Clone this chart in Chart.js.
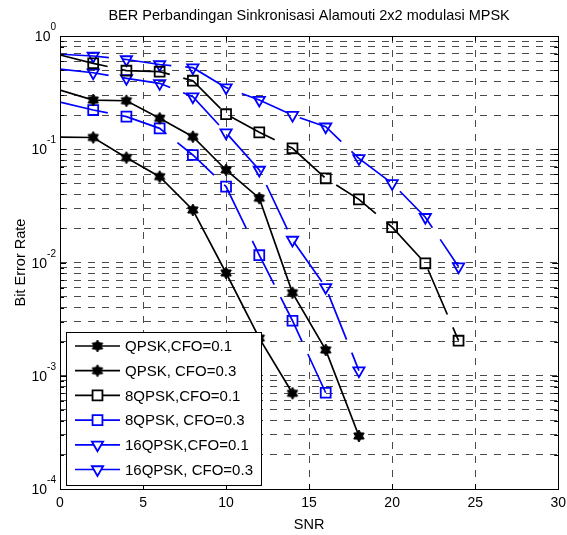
<!DOCTYPE html>
<html><head><meta charset="utf-8">
<script src="https://cdn.jsdelivr.net/npm/chart.js@4"></script>
<style>html,body{margin:0;padding:0;background:#fff}canvas{display:block}</style>
</head><body>
<canvas id="c" width="567" height="535"></canvas>
<script>
// ---- data ----
const snr = [0, 2, 4, 6, 8, 10, 12, 14, 16, 18, 20, 22, 24];
const qpskCfo01 = [0.333, 0.272, 0.268, 0.1875, 0.129, 0.0656, 0.037, 0.0054, 0.00169, 0.000294];
const qpskCfo03 = [0.128, 0.127, 0.0843, 0.0573, 0.0291, 0.00808, 0.00215, 0.0007];
const psk8Cfo01 = [0.68, 0.574, 0.494, 0.484, 0.403, 0.204, 0.141, 0.102, 0.0554, 0.0361, 0.0205, 0.00984, 0.00204];
const psk8Cfo03 = [0.261, 0.222, 0.194, 0.153, 0.089, 0.0468, 0.0116, 0.00306, 0.000708];
const psk16Cfo01 = [0.69, 0.666, 0.62, 0.56, 0.525, 0.35, 0.272, 0.2, 0.158, 0.083, 0.05, 0.0251, 0.00918];
const psk16Cfo03 = [0.51, 0.474, 0.423, 0.382, 0.291, 0.14, 0.0656, 0.0158, 0.00604, 0.00111];
const seriesLabels = ['QPSK,CFO=0.1', 'QPSK, CFO=0.3', '8QPSK,CFO=0.1', '8QPSK, CFO=0.3', '16QPSK,CFO=0.1', '16QPSK, CFO=0.3'];
const xTicks = [0, 5, 10, 15, 20, 25, 30];
const yDecades = [1e-4, 1e-3, 1e-2, 1e-1, 1];
const yExponents = ['-4', '-3', '-2', '-1', '0'];
const titleText = 'BER Perbandingan Sinkronisasi Alamouti 2x2 modulasi MPSK';
const xLabel = 'SNR';
const yLabel = 'Bit Error Rate';

const FONT = '"Liberation Sans", Arial, Helvetica, sans-serif';

function pts(vals) { return vals.map((v, i) => ({x: snr[i], y: v})); }

function makeStar(r) {
  const s = 2 * Math.ceil(r) + 2;
  const c = document.createElement('canvas');
  c.width = c.height = s;
  const g = c.getContext('2d');
  g.translate(s / 2, s / 2);
  g.beginPath();
  for (let i = 0; i < 12; i++) {
    const a = -Math.PI / 2 + i * Math.PI / 6;
    const rr = (i % 2) ? r * 0.6 : r;
    g.lineTo(rr * Math.cos(a), rr * Math.sin(a));
  }
  g.closePath();
  g.fillStyle = '#000'; g.fill();
  g.lineWidth = 1; g.strokeStyle = '#000'; g.stroke();
  return c;
}
const starImg = makeStar(6);

const hideFirst = (r) => (ctx) => ctx.dataIndex === 0 ? 0 : r;
const LONG_DASH = [49, 14];

const styles = [
  {color: '#000', marker: starImg, dash: [], radius: 6, rot: 0},
  {color: '#000', marker: starImg, dash: [], radius: 6, rot: 0},
  {color: '#000', marker: 'rect', dash: LONG_DASH, radius: 7, rot: 0},
  {color: '#0000ff', marker: 'rect', dash: LONG_DASH, radius: 7, rot: 0},
  {color: '#0000ff', marker: 'triangle', dash: LONG_DASH, radius: 6.5, rot: 180},
  {color: '#0000ff', marker: 'triangle', dash: LONG_DASH, radius: 6.5, rot: 180},
];
const seriesValues = [qpskCfo01, qpskCfo03, psk8Cfo01, psk8Cfo03, psk16Cfo01, psk16Cfo03];

const datasets = seriesValues.map((vals, k) => ({
  label: seriesLabels[k],
  data: pts(vals),
  borderColor: styles[k].color,
  borderWidth: 1.7,
  borderDash: styles[k].dash,
  pointStyle: styles[k].marker,
  pointRadius: hideFirst(styles[k].radius),
  pointHoverRadius: hideFirst(styles[k].radius),
  pointRotation: styles[k].rot,
  pointBorderColor: styles[k].color,
  pointBackgroundColor: 'rgba(0,0,0,0)',
  pointBorderWidth: 1.8,
  tension: 0,
  fill: false
}));

function yTickValues() {
  const out = [];
  for (let d = 0; d < yDecades.length; d++) {
    out.push(yDecades[d]);
    if (d < yDecades.length - 1) {
      for (let m = 2; m <= 9; m++) out.push(+(yDecades[d] * m).toPrecision(3));
    }
  }
  return out;
}

const decor = {
  id: 'decor',
  afterDatasetsDraw(chart) {
    const ctx = chart.ctx;
    const a = chart.chartArea;
    const xs = chart.scales.x, ys = chart.scales.y;
    ctx.save();
    // inner tick marks
    ctx.strokeStyle = '#000'; ctx.lineWidth = 1; ctx.setLineDash([]);
    ctx.beginPath();
    xTicks.forEach(t => {
      const px = Math.round(xs.getPixelForValue(t)) + 0.5;
      ctx.moveTo(px, a.bottom); ctx.lineTo(px, a.bottom - 5);
      ctx.moveTo(px, a.top); ctx.lineTo(px, a.top + 5);
    });
    ys.ticks.forEach(t => {
      const py = Math.round(ys.getPixelForValue(t.value)) + 0.5;
      const major = yDecades.includes(t.value);
      const L = major ? 6 : 4;
      ctx.moveTo(a.left, py); ctx.lineTo(a.left + L, py);
      ctx.moveTo(a.right, py); ctx.lineTo(a.right - L, py);
    });
    ctx.stroke();
    // axes box
    ctx.strokeRect(Math.round(a.left) + 0.5, Math.round(a.top) + 0.5, Math.round(a.right - a.left), Math.round(a.bottom - a.top));

    // legend
    const lx = 66, ly = 332, lw = 195, lh = 153;
    ctx.fillStyle = '#fff';
    ctx.fillRect(lx, ly, lw, lh);
    ctx.strokeStyle = '#000'; ctx.lineWidth = 1;
    ctx.strokeRect(lx + 0.5, ly + 0.5, lw, lh);
    ctx.font = '15px ' + FONT;
    ctx.textBaseline = 'middle'; ctx.textAlign = 'left';
    chart.data.datasets.forEach((ds, k) => {
      const cy = ly + 14 + k * 24.7;
      ctx.strokeStyle = ds.borderColor; ctx.lineWidth = 1.7; ctx.setLineDash([]);
      ctx.beginPath(); ctx.moveTo(75, cy); ctx.lineTo(120, cy); ctx.stroke();
      const st = styles[k];
      if (st.marker === starImg) {
        ctx.drawImage(starImg, 97.5 - starImg.width / 2, cy - starImg.height / 2);
      } else {
        ctx.fillStyle = '#fff';
        ctx.lineWidth = 1.8;
        Chart.helpers.drawPoint(ctx, {pointStyle: st.marker, radius: st.radius, rotation: st.rot, borderWidth: 1.8}, 97.5, cy);
      }
      ctx.fillStyle = '#000';
      ctx.fillText(ds.label, 125, cy + 1);
    });
    ctx.restore();
  },
  afterDraw(chart) {
    const ctx = chart.ctx;
    const a = chart.chartArea;
    const xs = chart.scales.x, ys = chart.scales.y;
    ctx.save();
    ctx.fillStyle = '#000';
    // title
    ctx.font = '14.5px ' + FONT;
    ctx.textAlign = 'center'; ctx.textBaseline = 'middle';
    ctx.fillText(titleText, (a.left + a.right) / 2, 16);
    // x tick labels
    ctx.font = '14px ' + FONT;
    xTicks.forEach(t => ctx.fillText(String(t), xs.getPixelForValue(t), 503));
    // x title
    ctx.font = '14.5px ' + FONT;
    ctx.fillText(xLabel, (a.left + a.right) / 2, 525);
    // y title
    ctx.save();
    ctx.translate(21, (a.top + a.bottom) / 2);
    ctx.rotate(-Math.PI / 2);
    ctx.fillText(yLabel, 0, 0);
    ctx.restore();
    // y tick labels with superscripts
    ctx.textAlign = 'left'; ctx.textBaseline = 'alphabetic';
    yDecades.forEach((v, i) => {
      const py = ys.getPixelForValue(v);
      ctx.font = '14px ' + FONT;
      const w1 = ctx.measureText('10').width;
      ctx.font = '10px ' + FONT;
      const w2 = ctx.measureText(yExponents[i]).width;
      const x0 = 56 - w1 - w2;
      ctx.font = '14px ' + FONT;
      ctx.fillText('10', x0, py + 5);
      ctx.font = '10px ' + FONT;
      ctx.fillText(yExponents[i], x0 + w1, py - 6);
    });
    ctx.restore();
  }
};

new Chart(document.getElementById('c'), {
  type: 'line',
  data: {datasets},
  options: {
    responsive: false,
    animation: false,
    devicePixelRatio: 1,
    layout: {padding: {top: 36, right: 8, left: 0, bottom: 0}},
    plugins: {legend: {display: false}, tooltip: {enabled: false}, title: {display: false}},
    scales: {
      x: {
        type: 'linear', min: 0, max: 30,
        ticks: {display: false, stepSize: 5},
        afterBuildTicks: (s) => { s.ticks = xTicks.map(v => ({value: v})); },
        afterFit: (s) => { s.height = 46; },
        grid: {color: '#4a4a4a', lineWidth: 1, drawTicks: false},
        border: {display: false, dash: [7, 7]}
      },
      y: {
        type: 'logarithmic', min: 1e-4, max: 1,
        ticks: {display: false},
        afterBuildTicks: (s) => { s.ticks = yTickValues().map(v => ({value: v})); },
        afterFit: (s) => { s.width = 60; },
        grid: {color: '#4a4a4a', lineWidth: 1, drawTicks: false},
        border: {display: false, dash: [7, 7]}
      }
    }
  },
  plugins: [decor]
});
</script>
</body></html>
